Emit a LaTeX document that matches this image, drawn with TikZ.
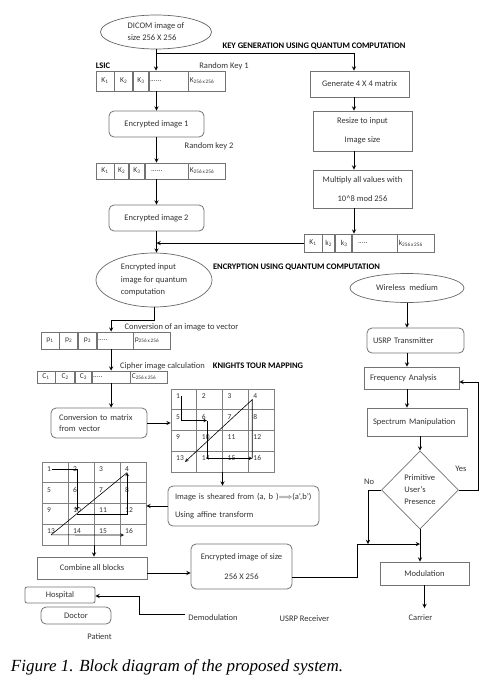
\documentclass[tikz,border=0pt]{standalone}
\usepackage{fontspec}
\setmainfont{Carlito}
\newfontfamily\capfont{Liberation Serif}
\usetikzlibrary{arrows,positioning,shapes.geometric}

\begin{document}
\begin{tikzpicture}[x=1pt,y=-1pt,font=\fontsize{8.5}{10.5}\selectfont,text=black!80]
	\tikzstyle{box} = [draw=black!55, line width=0.8pt, rectangle, inner sep=2pt]
	\tikzstyle{rbox} = [box, rounded corners=5pt]
	\tikzstyle{cell} = [draw=black!55, line width=0.7pt, inner sep=1pt, font=\fontsize{7.5}{8}\selectfont]
	\tikzstyle{oval} = [draw=black!60, line width=0.7pt, ellipse, inner sep=0pt, align=left, font=\fontsize{8.5}{12.5}\selectfont]
	\tikzstyle{head} = [font=\fontsize{8.5}{10}\selectfont\bfseries, text=black]
	\tikzstyle{num} = [inner sep=1pt, anchor=west, font=\fontsize{7.5}{8}\selectfont]
	\tikzstyle{tbl} = [draw=black!50, line width=0.7pt, inner sep=0pt]
	\tikzstyle{gline} = [draw=black!50, line width=0.7pt]
	\tikzstyle{flow} = [->, >=stealth, line width=0.9pt, black]
	\tikzstyle{tour} = [->, >=stealth, line width=0.6pt, black]

	\useasboundingbox (0,0) rectangle (487,694);

	% key generation
	\node[oval, minimum width=111pt, minimum height=34pt, font=\fontsize{8.5}{12}\selectfont] (dicom) at (156,32) {DICOM image of\\size 256 X 256};
	\node[head] (keyhead) at (314,46) {KEY GENERATION USING QUANTUM COMPUTATION};
	\node[head] (lsic) at (103,66) {LSIC};
	\node (rkey1) at (224,66) {Random Key 1};

	\node[cell, minimum width=18pt, minimum height=20pt] (ka1) at (105,81) {K\textsubscript{1}};
	\node[cell, minimum width=18pt, minimum height=20pt, right=0pt of ka1] (ka2) {K\textsubscript{2}};
	\node[cell, minimum width=15pt, minimum height=20pt, right=0pt of ka2] (ka3) {K\textsubscript{3}};
	\node[cell, text width=37pt, align=left, minimum height=20pt, right=0pt of ka3] (ka4) {......};
	\node[cell, text width=35pt, align=left, minimum height=20pt, right=0pt of ka4] (ka5) {K\textsubscript{256\,x\,256}};

	\node[rbox, minimum width=95pt, minimum height=26pt] (enc1) at (156.5,124) {Encrypted image 1};
	\node (rkey2) at (209,146) {Random key 2};

	\node[cell, minimum width=18pt, minimum height=16pt] (kb1) at (105,171) {K\textsubscript{1}};
	\node[cell, minimum width=14pt, minimum height=16pt, right=0pt of kb1] (kb2) {K\textsubscript{2}};
	\node[cell, minimum width=15pt, minimum height=16pt, right=0pt of kb2] (kb3) {K\textsubscript{3}};
	\node[cell, text width=41pt, align=left, minimum height=16pt, right=0pt of kb3] (kb4) {\ \ ......};
	\node[cell, text width=35pt, align=left, minimum height=16pt, right=0pt of kb4] (kb5) {K\textsubscript{256\,x\,256}};

	\node[rbox, minimum width=95pt, minimum height=26pt] (enc2) at (156.5,218) {Encrypted image 2};

	\node[box, minimum width=99pt, minimum height=26pt] (gen) at (359.5,84) {Generate 4 X 4 matrix};
	\node[box, minimum width=99pt, minimum height=40pt, align=center] (resize) at (362.5,131) {Resize to input\\[8pt]Image size};
	\node[box, minimum width=99pt, minimum height=38pt, align=center] (multiply) at (362.5,189) {Multiply all values with\\[9pt]10\^{}8 mod 256};

	\node[cell, minimum width=18pt, minimum height=18pt] (kc1) at (313,243) {K\textsubscript{1}};
	\node[cell, minimum width=12pt, minimum height=18pt, right=0pt of kc1] (kc2) {k\textsubscript{2}};
	\node[cell, minimum width=16pt, minimum height=18pt, right=0pt of kc2] (kc3) {\ k\textsubscript{3}};
	\node[cell, text width=43pt, align=left, minimum height=18pt, right=0pt of kc3] (kc4) {\ \ .....};
	\node[cell, text width=35pt, align=left, minimum height=18pt, right=0pt of kc4] (kc5) {k\textsubscript{256\,x\,256}};

	\coordinate[below=4pt of dicom] (split);
	\coordinate (keycol) at (354,53);

	\draw[flow] (dicom.south) -- (dicom.south |- ka1.north);
	\draw[flow] (split) -| (gen.north -| keycol);
	\draw[flow] (gen.south -| keycol) -- (resize.north -| keycol);
	\draw[flow] (resize.south -| keycol) -- (multiply.north -| keycol);
	\draw[flow] (multiply.south -| keycol) -- (kc4.north -| keycol);
	\draw[flow] (enc1.north |- ka1.south) -- (enc1.north);
	\draw[flow] (enc1.south) -- (enc1.south |- kb1.north);
	\draw[flow] (enc2.north |- kb1.south) -- (enc2.north);
	\draw[flow] (kc1.west) -- (kc1.west -| enc2.south);

	% encryption
	\node[oval, minimum width=116pt, minimum height=54pt] (encin) at (154,280) {Encrypted input\\image for quantum\\computation};
	\node[head] (enchead) at (296.5,267) {ENCRYPTION USING QUANTUM COMPUTATION};
	\draw[flow] (enc2.south) -- (enc2.south |- encin.north);

	\node (vecnote) at (181.5,327) {Conversion of an image to vector};
	\node[cell, minimum width=18pt, minimum height=17pt] (pa1) at (50,340.5) {p\textsubscript{1}};
	\node[cell, minimum width=18pt, minimum height=17pt, right=0pt of pa1] (pa2) {p\textsubscript{2}};
	\node[cell, minimum width=18pt, minimum height=17pt, right=0pt of pa2] (pa3) {p\textsubscript{3}};
	\node[cell, text width=34pt, align=left, minimum height=17pt, right=0pt of pa3] (pa4) {.....};
	\node[cell, text width=35pt, align=left, minimum height=17pt, right=0pt of pa4] (pa5) {p\textsubscript{256\,x\,256}};

	\node (ciphernote) at (162.5,366) {Cipher image calculation};
	\node[head] (knight) at (258,366) {KNIGHTS TOUR MAPPING};
	\node[cell, minimum width=18pt, minimum height=12pt] (ca1) at (46,377) {C\textsubscript{1}};
	\node[cell, minimum width=19pt, minimum height=12pt, right=0pt of ca1] (ca2) {C\textsubscript{2}};
	\node[cell, minimum width=16pt, minimum height=12pt, right=0pt of ca2] (ca3) {C\textsubscript{3}};
	\node[cell, text width=36pt, align=left, minimum height=12pt, right=0pt of ca3] (ca4) {.....};
	\node[cell, text width=35pt, align=left, minimum height=12pt, right=0pt of ca4] (ca5) {C\textsubscript{256\,x\,256}};

	\draw[flow] (encin.south) -- ++(0,13) -| (ca4.north |- pa1.north);
	\draw[flow] (ca4.north |- pa4.south) -- (ca4.north);

	\node[rbox, text width=80pt, inner xsep=8pt, minimum height=30pt, align=left] (conv) at (99,423) {Conversion to matrix\\from vector};
	\draw[flow] (ca4.south) -- (ca4.south |- conv.north);

	% knights tour grids
	\node[tbl, minimum width=103pt, minimum height=83pt] (gridA) at (222.5,430.5) {};
	\draw[gline] (196.75,389) -- (196.75,472) (222.5,389) -- (222.5,472) (248.25,389) -- (248.25,472);
	\draw[gline] (171,409.75) -- (274,409.75) (171,430.5) -- (274,430.5) (171,451.25) -- (274,451.25);
	\node[num] (a1) at (175,396) {1}; \node[num] (a2) at (200.75,396) {2}; \node[num] (a3) at (226.5,396) {3}; \node[num] (a4) at (252.25,396) {4};
	\node[num] (a5) at (175,416.75) {5}; \node[num] (a6) at (200.75,416.75) {6}; \node[num] (a7) at (226.5,416.75) {7}; \node[num] (a8) at (252.25,416.75) {8};
	\node[num] (a9) at (175,437.5) {9}; \node[num] (a10) at (200.75,437.5) {10}; \node[num] (a11) at (226.5,437.5) {11}; \node[num] (a12) at (252.25,437.5) {12};
	\node[num] (a13) at (175,458.25) {13}; \node[num] (a14) at (200.75,458.25) {14}; \node[num] (a15) at (226.5,458.25) {15}; \node[num] (a16) at (252.25,458.25) {16};
	\draw[tour] (a1.east) |- (a6.south east);
	\draw[tour] (a6.south east) |- (a16.west);
	\draw[tour] (a16.west) -- (a16.west |- a4.south) -- (a13.south east);

	\draw[flow] (conv.east) -- (conv.east -| gridA.west);

	\node[rbox, text width=137pt, inner xsep=7pt, minimum height=40pt, align=left] (shear) at (243.5,506) {Image is sheared from (a, b )$\Longrightarrow$(a',b')\\[8pt]Using affine transform};
	\draw[flow] (gridA.south) -- (gridA.south |- shear.north);

	\node[tbl, minimum width=104pt, minimum height=83pt] (gridB) at (94,503.5) {};
	\draw[gline] (68,462) -- (68,545) (94,462) -- (94,545) (120,462) -- (120,545);
	\draw[gline] (42,482.75) -- (146,482.75) (42,503.5) -- (146,503.5) (42,524.25) -- (146,524.25);
	\node[num] (b1) at (46,469) {1}; \node[num] (b2) at (72,469) {2}; \node[num] (b3) at (98,469) {3}; \node[num] (b4) at (124,469) {4};
	\node[num] (b5) at (46,489.75) {5}; \node[num] (b6) at (72,489.75) {6}; \node[num] (b7) at (98,489.75) {7}; \node[num] (b8) at (124,489.75) {8};
	\node[num] (b9) at (46,510.5) {9}; \node[num] (b10) at (72,510.5) {10}; \node[num] (b11) at (98,510.5) {11}; \node[num] (b12) at (124,510.5) {12};
	\node[num] (b13) at (46,531.25) {13}; \node[num] (b14) at (72,531.25) {14}; \node[num] (b15) at (98,531.25) {15}; \node[num] (b16) at (124,531.25) {16};
	\draw[tour] (b1.east) -| (b10.center);
	\draw[tour] (b10.south) -| (b4.south);
	\draw[line width=0.6pt] (b4.south) -- (b13.south);
	\draw[tour] (b13.south) -- (b16.south west);

	\draw[flow] (shear.west) -- (shear.west -| gridB.east);

	\node[box, minimum width=110pt, minimum height=22pt] (combine) at (92,568) {Combine all blocks};
	\node[rbox, minimum width=101pt, minimum height=45pt, align=center] (encout) at (241.5,566.5) {Encrypted image of size\\[9pt]256 X 256};
	\draw[flow] (gridB.south) -- (gridB.south |- combine.north);
	\draw[flow] ([yshift=-5pt]combine.east) -- ([yshift=-5pt]combine.east -| encout.west);

	% transmission
	\node[oval, minimum width=114pt, minimum height=29pt] (wireless) at (407,288) {Wireless\ \ medium};
	\node[rbox, text width=85pt, inner xsep=6pt, minimum height=25pt, align=left] (usrptx) at (415.5,340.5) {USRP Transmitter};
	\node[box, text width=83pt, inner xsep=6pt, minimum height=22pt, align=left] (freq) at (411.5,378) {Frequency Analysis};
	\node[box, text width=88pt, inner xsep=6pt, minimum height=28pt, align=left] (spectrum) at (417,422) {Spectrum Manipulation};
	\node[diamond, draw=black!55, line width=0.7pt, minimum width=77pt, minimum height=78pt, inner sep=0pt, align=left, font=\fontsize{8.5}{12}\selectfont] (presence) at (420,490) {Primitive\\User's\\Presence};
	\node (yes) at (461,469) {Yes};
	\node (no) at (369,482) {No};
	\node[box, minimum width=89pt, minimum height=23pt] (modul) at (424.5,573.5) {Modulation};
	\node (carrier) at (420.5,618) {Carrier};

	\draw[flow] (wireless.south) -- (wireless.south |- usrptx.north);
	\draw[flow] (usrptx.south -| wireless.south) -- (freq.north -| wireless.south);
	\draw[flow] (freq.south -| wireless.south) -- (spectrum.north -| wireless.south);
	\draw[flow] (spectrum.south -| presence.north) -- (presence.north);
	\coordinate (loopback) at (478,382);
	\draw[flow] (presence.east) -| (loopback) -- (loopback -| freq.east);
	\coordinate (nodrop) at (368,544);
	\draw[flow] (presence.west) -| (nodrop);
	\coordinate (mergelow) at (357,577);
	\coordinate (mergehigh) at (357,544);
	\draw[flow] (mergelow -| encout.east) -- (mergelow) -- (mergehigh) -- (mergehigh -| presence.south);
	\draw[flow] (presence.south) -- (presence.south |- modul.north);
	\coordinate (carrierin) at (424.5,608);
	\draw[flow] (modul.south) -- (carrierin);

	% receiver side
	\node[box, rounded corners=2pt, minimum width=70pt, minimum height=16pt] (hospital) at (60,595) {Hospital};
	\node[rbox, minimum width=70pt, minimum height=17pt] (doctor) at (76,615.5) {Doctor};
	\node (patient) at (99.5,637) {Patient};
	\node (demod) at (213,618) {Demodulation};
	\node (usrprx) at (304.5,619) {USRP Receiver};
	\coordinate (demodturn) at (139,596);
	\draw[flow] ([yshift=4pt]demod.west) -| (demodturn) -- (demodturn -| hospital.east);

	\node[font=\capfont\itshape\fontsize{17}{19}\selectfont, text=black] (caption) at (177,667) {Figure 1. Block diagram of the proposed system.};
\end{tikzpicture}
\end{document}
